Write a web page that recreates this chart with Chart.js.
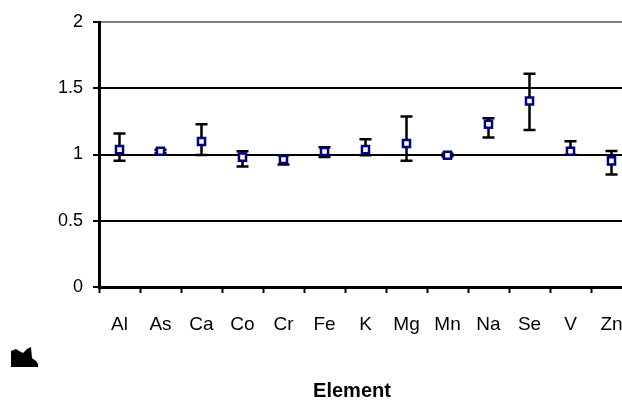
<!DOCTYPE html>
<html>
<head>
<meta charset="utf-8">
<script src="https://cdn.jsdelivr.net/npm/chart.js@4"></script>
<style>
  html, body { margin: 0; padding: 0; background: #fff; overflow: hidden; }
  #wrap { width: 640px; height: 400px; }
</style>
</head>
<body>
<div id="wrap"><canvas id="chart"></canvas></div>
<script>
const elements = ["Al", "As", "Ca", "Co", "Cr", "Fe", "K", "Mg", "Mn", "Na", "Se", "V", "Zn"];
const ratio = [1.037, 1.025, 1.098, 0.98, 0.962, 1.022, 1.037, 1.083, 0.995, 1.228, 1.404, 1.025, 0.952];
const errHigh = [1.158, 1.035, 1.228, 1.025, 0.995, 1.055, 1.115, 1.286, 1.005, 1.273, 1.61, 1.10, 1.027];
const errLow = [0.952, 1.012, 0.997, 0.91, 0.925, 0.982, 0.995, 0.952, 0.985, 1.128, 1.185, 0.998, 0.85];
const yTicks = [0, 0.5, 1, 1.5, 2];
const xTitle = "Element";

const font = "'Liberation Sans', Arial, sans-serif";

// error bars drawn under the markers
const errorBars = {
    id: "errorBars",
    beforeDatasetsDraw(chart) {
        const ctx = chart.ctx;
        const x = chart.scales.x;
        const y = chart.scales.y;
        ctx.save();
        ctx.strokeStyle = "#000";
        ctx.lineWidth = 2.5;
        elements.forEach((el, i) => {
            const px = x.getPixelForValue(i);
            const top = y.getPixelForValue(errHigh[i]);
            const bot = y.getPixelForValue(errLow[i]);
            ctx.beginPath();
            ctx.moveTo(px, top);
            ctx.lineTo(px, bot);
            ctx.moveTo(px - 6, top);
            ctx.lineTo(px + 6, top);
            ctx.moveTo(px - 6, bot);
            ctx.lineTo(px + 6, bot);
            ctx.stroke();
        });
        ctx.restore();
    }
};

// axis title (sits a bit left of the plot centre) and the dark mark at bottom left
const extras = {
    id: "extras",
    afterDraw(chart) {
        const ctx = chart.ctx;
        ctx.save();
        ctx.fillStyle = "#000";
        ctx.font = "bold 20px " + font;
        ctx.textAlign = "center";
        ctx.textBaseline = "alphabetic";
        ctx.fillText(xTitle, 352, 397);

        ctx.beginPath();
        ctx.moveTo(11, 351);
        ctx.lineTo(16, 349);
        ctx.lineTo(19, 351);
        ctx.lineTo(23, 353);
        ctx.lineTo(27, 349);
        ctx.lineTo(31, 347);
        ctx.lineTo(32, 358);
        ctx.lineTo(36, 361);
        ctx.lineTo(38, 364);
        ctx.lineTo(38, 367);
        ctx.lineTo(11, 367);
        ctx.closePath();
        ctx.fill();
        ctx.restore();
    }
};

new Chart(document.getElementById("chart"), {
    type: "line",
    data: {
        labels: elements,
        datasets: [{
            data: ratio,
            showLine: false,
            pointStyle: "rect",
            pointRadius: 5,
            pointBorderWidth: 2.5,
            pointBorderColor: "#000080",
            pointBackgroundColor: "#fff",
            pointHoverRadius: 5
        }]
    },
    options: {
        responsive: true,
        maintainAspectRatio: false,
        animation: false,
        layout: { padding: { top: 22, right: 8, left: 0, bottom: 0 } },
        plugins: {
            legend: { display: false },
            tooltip: { enabled: false }
        },
        scales: {
            x: {
                offset: true,
                grid: {
                    offset: true,
                    drawOnChartArea: false,
                    tickLength: 6,
                    tickWidth: 2,
                    tickColor: "#000"
                },
                border: { color: "#000", width: 3 },
                ticks: {
                    color: "#000",
                    font: { family: font, size: 19 },
                    padding: 20,
                    maxRotation: 0,
                    autoSkip: false
                },
                afterFit(scale) {
                    scale.height = 113;
                    scale.paddingLeft = 0;
                    scale.paddingRight = 0;
                }
            },
            y: {
                min: 0,
                max: 2,
                afterBuildTicks(scale) {
                    scale.ticks = yTicks.map(v => ({ value: v }));
                },
                grid: {
                    color: c => c.tick && c.tick.value === 2 ? "#808080" : "#000",
                    lineWidth: 2,
                    tickLength: 6,
                    tickColor: "#000"
                },
                border: { color: "#000", width: 3 },
                ticks: {
                    color: "#000",
                    font: { family: font, size: 18 },
                    padding: 10,
                    callback: v => String(v)
                },
                afterFit(scale) { scale.width = 99; }
            }
        }
    },
    plugins: [errorBars, extras]
});
</script>
</body>
</html>
